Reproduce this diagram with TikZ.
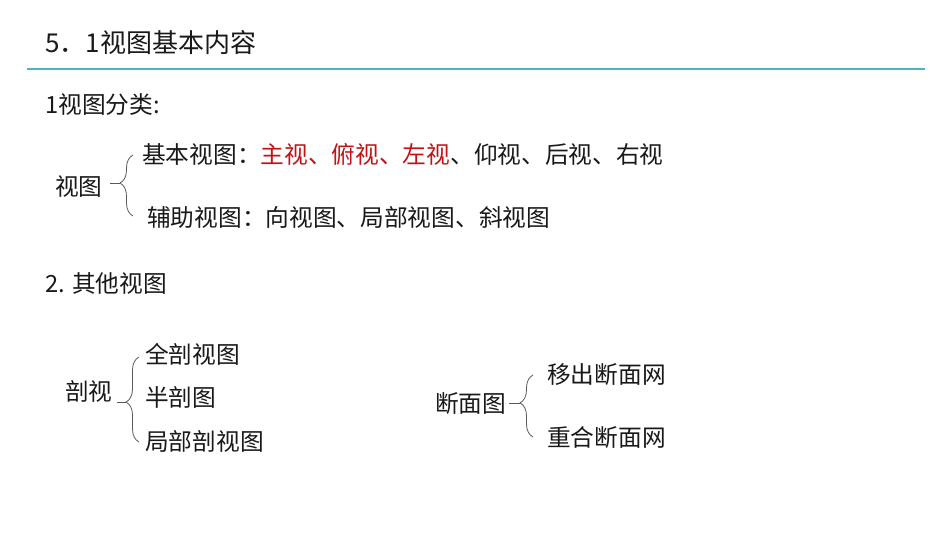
\documentclass[tikz,border=0pt]{standalone}
\usepackage{fontspec}
\newfontfamily\cjk{Noto Sans CJK SC}
\usetikzlibrary{decorations.pathreplacing}
\definecolor{hong}{RGB}{192,20,20}
\definecolor{qing}{RGB}{75,182,190}

\begin{document}
\begin{tikzpicture}[x=1pt,y=-1pt]
            \tikzstyle{t}=[anchor=west,inner sep=0pt,text=black!90,font=\cjk\fontsize{23.7}{24}\selectfont]
            \tikzstyle{k}=[decorate,black!65,line width=0.8pt]
            \useasboundingbox (0,0) rectangle (950,535);

            \node [t,font=\cjk\fontsize{26}{26}\selectfont] (biaoti) at (45,43) {5．1视图基本内容};
            \coordinate (xa) at (27,69);
            \coordinate (xb) at (925,69);
            \draw [qing,line width=2.5pt] (xa) -- (xb);

            \node [t] (fenlei) at (45,105) {1视图分类:};
            \node [t] (shitu) at (55,187) {视图};
            \node [t] (jiben) at (142,154) {基本视图：{\color{hong}主视、俯视、左视}、仰视、后视、右视};
            \node [t] (fuzhu) at (147,217) {辅助视图：向视图、局部视图、斜视图};

            \node [t] (qita) at (45,284) {2. 其他视图};
            \node [t] (poushi) at (65,391) {剖视};
            \node [t] (quan) at (145,354) {全剖视图};
            \node [t] (ban) at (145,397) {半剖图};
            \node [t] (jubu) at (145,441) {局部剖视图};

            \node [t] (duanmian) at (435,404) {断面图};
            \node [t] (yichu) at (547,375) {移出断面网};
            \node [t] (chonghe) at (547,438) {重合断面网};

            % braces
            \coordinate (k1b) at (133,216);
            \coordinate (k1t) at (133,155);
            \coordinate (k1j) at (120,183);
            \coordinate (d1) at (110,183);
            \draw [k,decoration={brace,amplitude=13pt,aspect=0.54}] (k1b) -- (k1t);
            \draw [k] (d1) -- (k1j);

            \coordinate (k2b) at (139,442);
            \coordinate (k2t) at (139,357);
            \coordinate (k2j) at (126,402);
            \coordinate (d2) at (117,402);
            \draw [k,decoration={brace,amplitude=13pt,aspect=0.47}] (k2b) -- (k2t);
            \draw [k] (d2) -- (k2j);

            \coordinate (k3b) at (533,437);
            \coordinate (k3t) at (533,375);
            \coordinate (k3j) at (520,403);
            \coordinate (d3) at (509,403);
            \draw [k,decoration={brace,amplitude=13pt,aspect=0.55}] (k3b) -- (k3t);
            \draw [k] (d3) -- (k3j);
        \end{tikzpicture}
\end{document}
